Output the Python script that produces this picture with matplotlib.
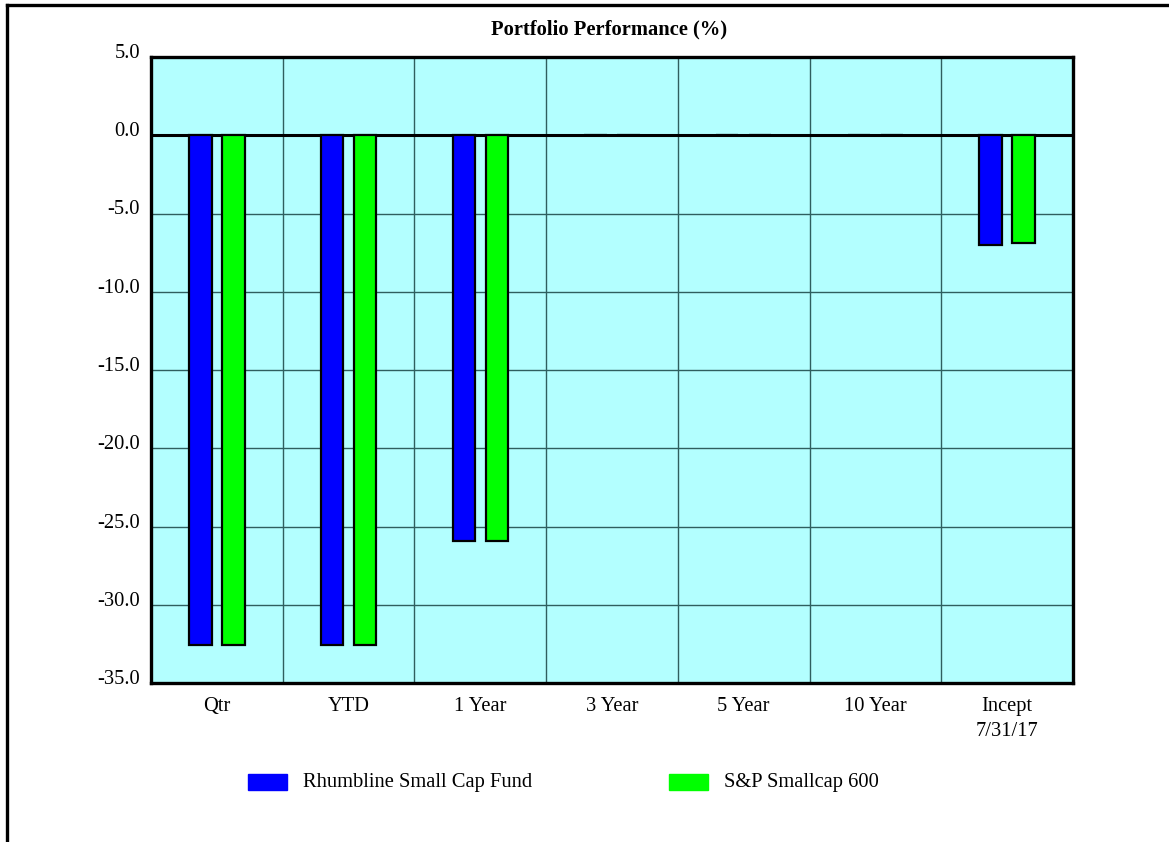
import matplotlib
matplotlib.use("Agg")
import matplotlib.pyplot as plt
import matplotlib.transforms as mtransforms
import numpy as np
from matplotlib.patches import Rectangle
from matplotlib.lines import Line2D

categories = ["Qtr", "YTD", "1 Year", "3 Year", "5 Year", "10 Year", "Incept\n7/31/17"]
fund_name = "Rhumbline Small Cap Fund"
bench_name = "S&P Smallcap 600"
fund_values = [-32.6, -32.6, -25.9, 0.0, 0.0, 0.0, -7.0]
bench_values = [-32.6, -32.6, -25.9, 0.0, 0.0, 0.0, -6.9]
y_ticks = [5.0, 0.0, -5.0, -10.0, -15.0, -20.0, -25.0, -30.0, -35.0]
title = "Portfolio Performance (%)"

plt.rcParams['font.family'] = ['Liberation Serif', 'DejaVu Serif']

fig = plt.figure(figsize=(11.69, 8.42), dpi=100)
W, H = 1169, 842
ax = fig.add_axes([151 / W, 1 - 683 / H, (1073 - 151) / W, (683 - 57) / H])
ax.set_facecolor('#B3FFFF')

x = np.arange(len(categories))
bw = 0.17
off = 0.125
ax.bar(x - off, fund_values, bw, color='#0000FF', edgecolor='black', linewidth=1.6, zorder=3)
ax.bar(x + off, bench_values, bw, color='#00FF00', edgecolor='black', linewidth=1.6, zorder=3)

FS = 14.8
ax.set_xlim(-0.5, len(categories) - 0.5)
ax.set_ylim(-35, 5)
ax.set_yticks(y_ticks)
ax.set_yticklabels([f"{v:.1f}" for v in y_ticks], fontsize=FS)
ax.set_xticks(x)
ax.set_xticklabels(categories, fontsize=FS, linespacing=1.45)
ax.set_xticks(np.arange(-0.5, len(categories) + 0.5, 1), minor=True)
ax.tick_params(axis='both', which='both', length=0)
ax.tick_params(axis='x', pad=10)
ax.tick_params(axis='y', pad=8)
shift = mtransforms.ScaledTranslation(0, 6 / 100, fig.dpi_scale_trans)
for lab in ax.get_yticklabels():
    lab.set_transform(lab.get_transform() + shift)
ax.xaxis.grid(True, which='minor', color='#2F5F5F', linewidth=1.0, zorder=1)
ax.yaxis.grid(True, which='major', color='#2F5F5F', linewidth=1.0, zorder=1)
ax.set_axisbelow(True)
ax.axhline(0, color='black', linewidth=2.2, zorder=2)
for s in ax.spines.values():
    s.set_linewidth(2.4)
    s.set_color('black')

fig.text(609 / W, 1 - 29 / H, title, ha='center', va='center', fontsize=FS, fontweight='bold')

# outer frame
fig.add_artist(Line2D([7 / W, 1.0], [1 - 5 / H, 1 - 5 / H], color='black', linewidth=2.4))
fig.add_artist(Line2D([7 / W, 7 / W], [1 - 5 / H, 0.0], color='black', linewidth=2.4))

# legend
ly = 1 - 782 / H
for px, color, name in [(248, '#0000FF', fund_name), (669, '#00FF00', bench_name)]:
    fig.add_artist(Rectangle((px / W, ly - 8 / H), 39 / W, 16 / H, color=color, transform=fig.transFigure))
    fig.text((px + 55) / W, ly, name, ha='left', va='center', fontsize=FS)

fig.savefig("out.png", dpi=100)
